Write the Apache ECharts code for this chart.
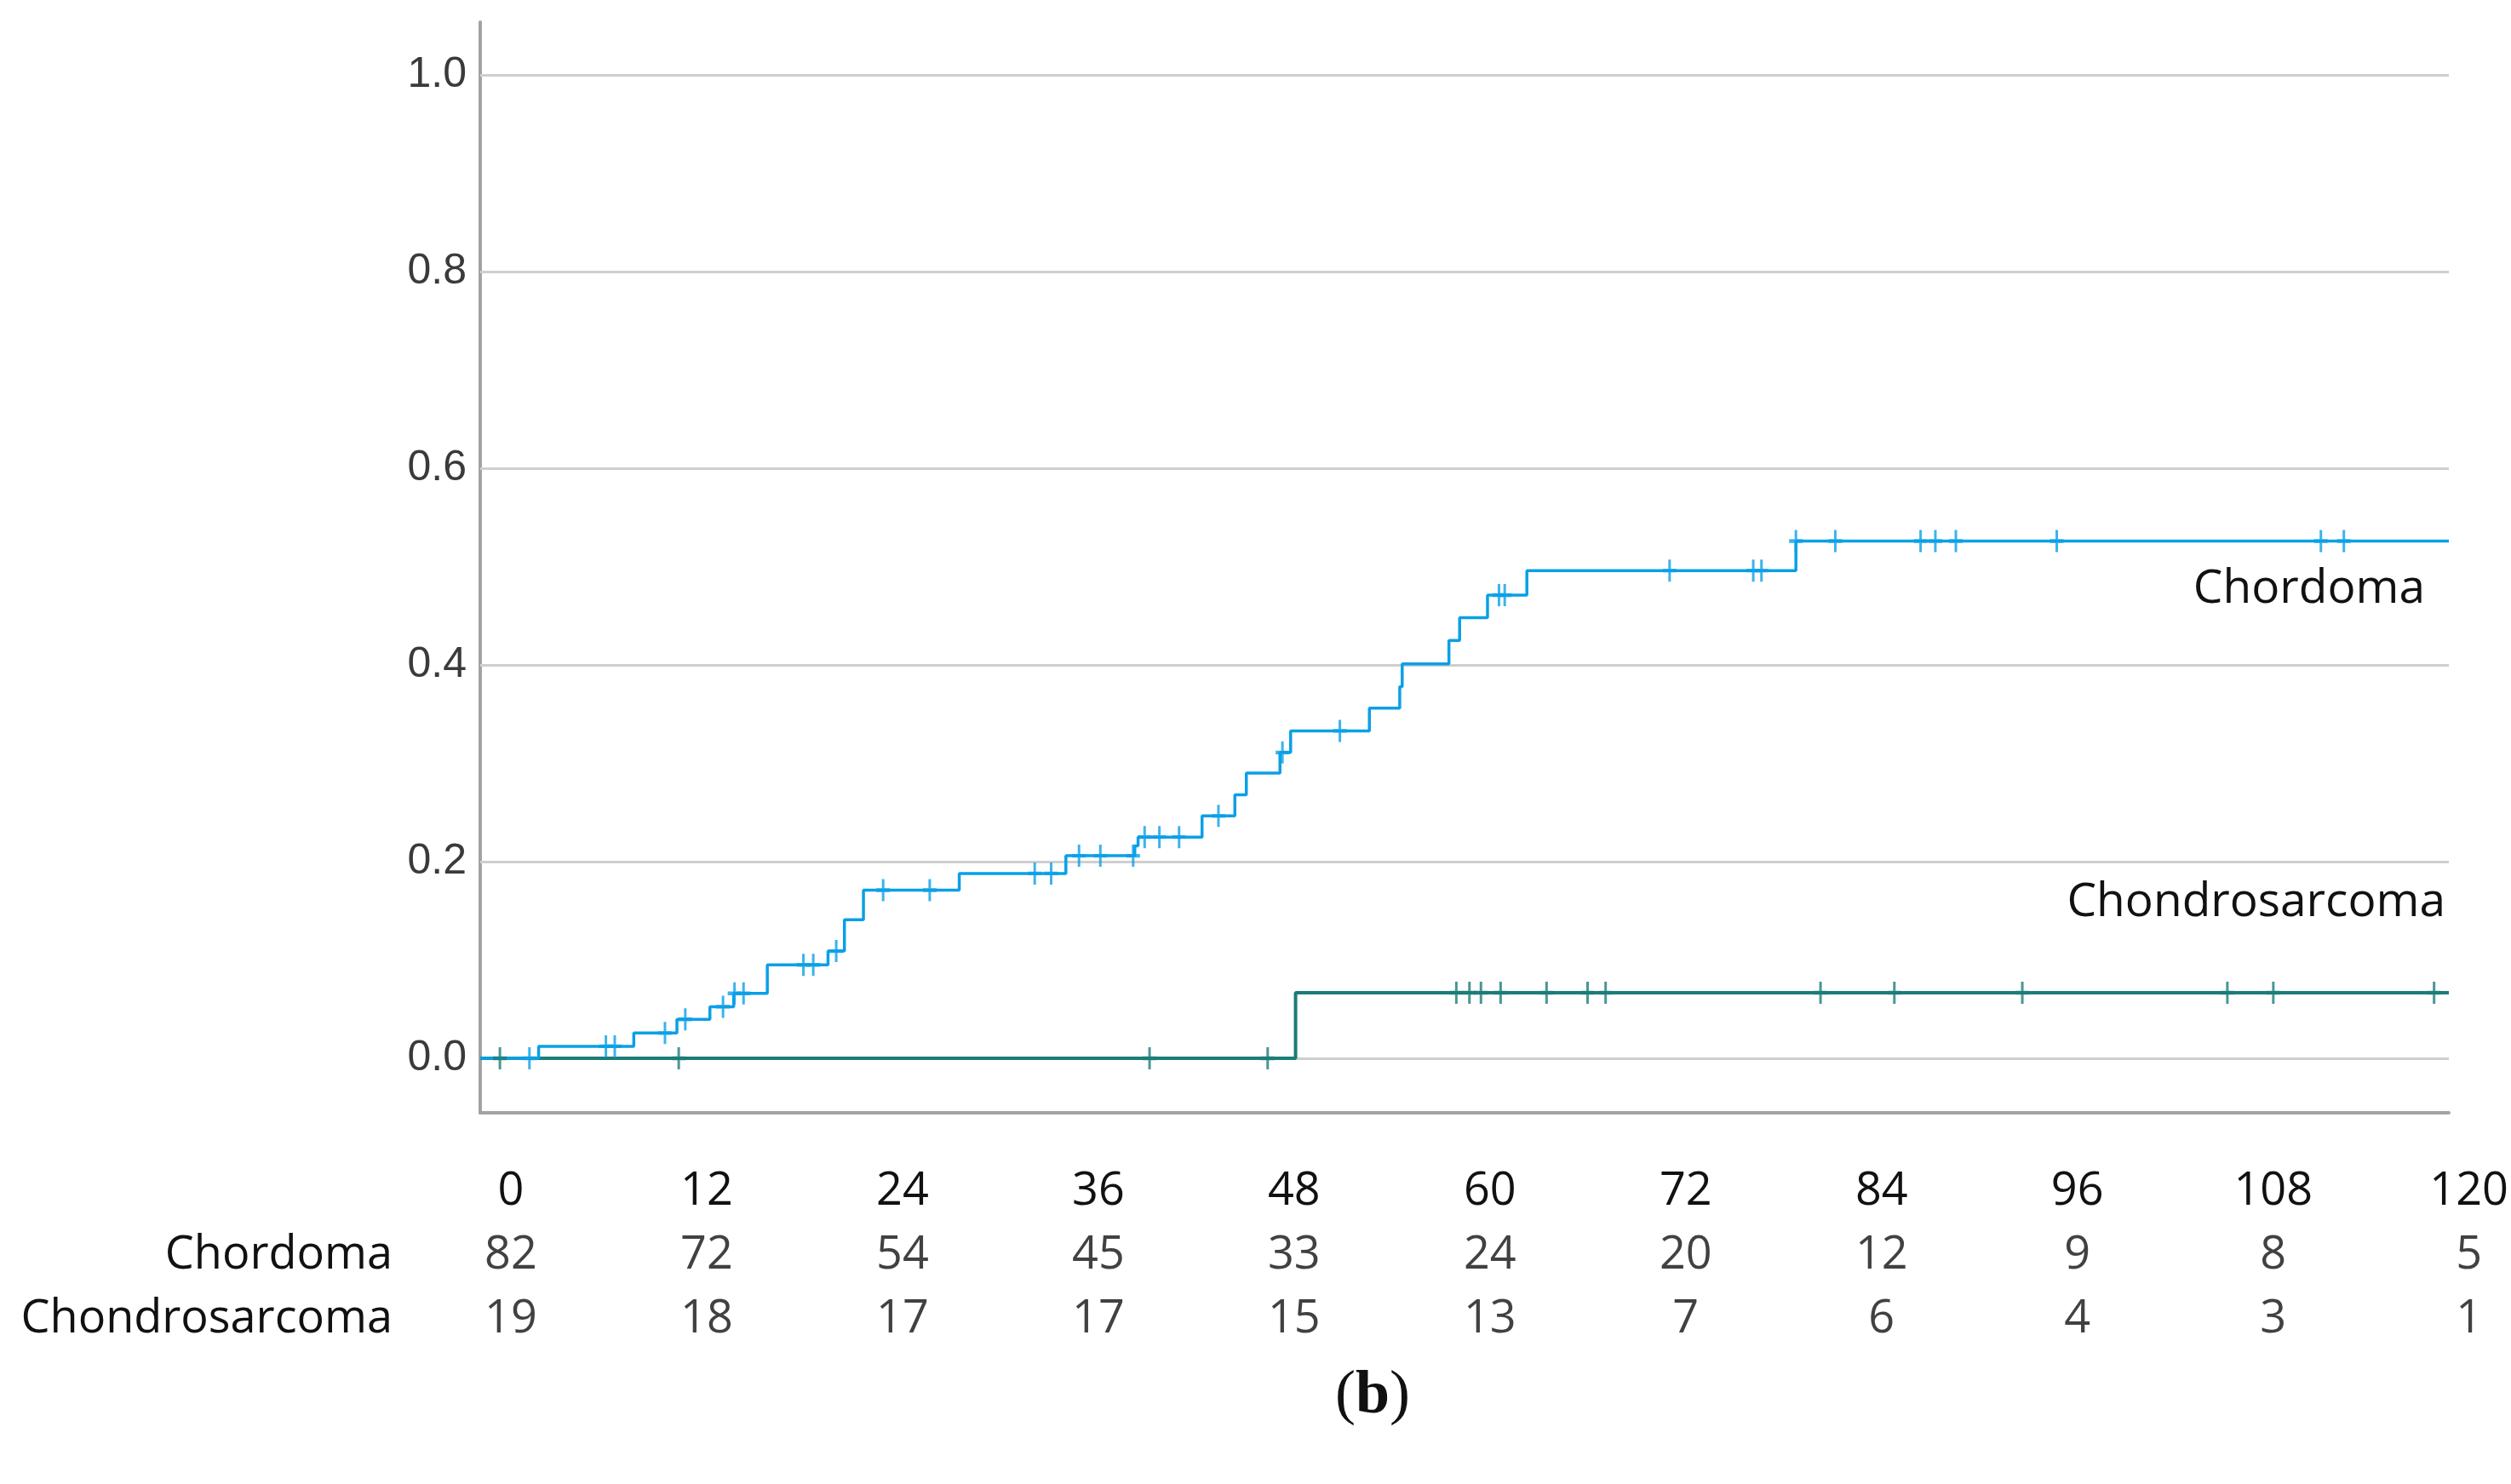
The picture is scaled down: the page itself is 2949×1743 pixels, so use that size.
<!DOCTYPE html>
<html>
<head>
<meta charset="utf-8">
<script src="https://cdn.jsdelivr.net/npm/echarts@6/dist/echarts.min.js"></script>
<style>
html,body{margin:0;padding:0;background:#fff;}
#main{width:2949px;height:1743px;}
</style>
</head>
<body>
<div id="main"></div>
<script>
// ---- data ----
const tickMonths = [0, 12, 24, 36, 48, 60, 72, 84, 96, 108, 120];
const groups = ['Chordoma', 'Chondrosarcoma'];
const riskChordoma = [82, 72, 54, 45, 33, 24, 20, 12, 9, 8, 5];
const riskChondro = [19, 18, 17, 17, 15, 13, 7, 6, 4, 3, 1];
const yTicks = [0, 0.2, 0.4, 0.6, 0.8, 1.0];

const chordomaEventTimes  = [3.56, 9.36, 11.99, 14.0, 15.45, 17.5, 21.2, 22.2, 23.36, 29.2, 35.7, 39.9, 40.1, 44.0, 46.0, 46.7, 48.75, 49.4, 54.2, 56.05, 56.2, 59.05, 59.7, 61.4, 63.8, 80.2];
const chordomaEventValues = [0.0122, 0.0257, 0.0396, 0.0525, 0.066, 0.095, 0.109, 0.141, 0.171, 0.188, 0.206, 0.216, 0.225, 0.2465, 0.268, 0.29, 0.311, 0.333, 0.356, 0.378, 0.401, 0.425, 0.448, 0.471, 0.496, 0.526];
const chordomaCensorTimes = [3.0, 7.66, 8.2, 11.26, 12.5, 14.8, 15.5, 16.05, 19.7, 20.3, 21.7, 24.56, 27.4, 33.8, 34.8, 36.5, 37.8, 39.8, 40.5, 41.4, 42.6, 45.0, 48.9, 52.4, 62.1, 62.45, 72.5, 77.6, 78.1, 80.2, 82.6, 87.8, 88.7, 89.95, 96.1, 112.2, 113.6];

const chondroEventTimes  = [49.7];
const chondroEventValues = [0.0667];
const chondroCensorTimes = [1.2, 12.1, 40.8, 48.0, 59.5, 60.3, 61.0, 62.2, 65.0, 67.5, 68.6, 81.7, 86.2, 94.0, 106.5, 109.3, 119.1];

const maxMonth = 120;

// ---- helpers ----
function stepData(times, values) {
  const d = [[0, 0]];
  times.forEach((t, i) => d.push([t, values[i]]));
  d.push([maxMonth, values[values.length - 1]]);
  return d;
}
function levelAt(times, values, t) {
  let v = 0;
  for (let i = 0; i < times.length; i++) { if (times[i] <= t) v = values[i]; }
  return v;
}
function censorData(cTimes, times, values) {
  return cTimes.map(t => [t, levelAt(times, values, t)]);
}

const blue = '#0aa0e6';
const teal = '#1b7d77';
const censorPath = 'path://M6.5,0h3v24h-3z M0,10h16v4h-16z';
const tableFont = '"Open Sans", sans-serif';

const tableData = [];
tickMonths.forEach((m, i) => {
  tableData.push([m, groups[0], riskChordoma[i]]);
  tableData.push([m, groups[1], riskChondro[i]]);
});

const chart = echarts.init(document.getElementById('main'), null, {renderer: 'canvas'});
chart.setOption({
  animation: false,
  backgroundColor: '#ffffff',
  grid: [
    {left: 564, right: 73, top: 26, bottom: 436},
    {left: 600, width: 2300, top: 1437, height: 150}
  ],
  xAxis: [
    {
      type: 'value', gridIndex: 0, min: 0, max: maxMonth,
      axisLine: {show: true, onZero: false, lineStyle: {color: '#a3a3a3', width: 4}},
      axisTick: {show: false}, axisLabel: {show: false}, splitLine: {show: false}
    },
    {
      type: 'value', gridIndex: 1, position: 'top', min: 0, max: maxMonth, interval: 12,
      axisLine: {show: false}, axisTick: {show: false}, splitLine: {show: false},
      axisLabel: {
        show: true, margin: 10, fontSize: 54, fontFamily: tableFont, color: '#111',
        lineHeight: 55, showMinLabel: true, showMaxLabel: true
      }
    }
  ],
  yAxis: [
    {
      type: 'value', gridIndex: 0, min: -0.0554, max: 1.0537,
      axisLine: {show: true, onZero: false, lineStyle: {color: '#a3a3a3', width: 4}},
      axisTick: {show: false}, splitLine: {show: false},
      axisLabel: {
        show: true, customValues: yTicks, margin: 16,
        fontSize: 50, fontFamily: '"Liberation Sans", Arial, sans-serif', color: '#3a3a3a',
        formatter: v => v.toFixed(1)
      }
    },
    {
      type: 'category', gridIndex: 1, data: groups, inverse: true,
      axisLine: {show: false}, axisTick: {show: false}, splitLine: {show: false},
      axisLabel: {show: true, margin: 139, fontSize: 54, fontFamily: tableFont, color: '#111'}
    }
  ],
  series: [
    {
      type: 'line', xAxisIndex: 0, yAxisIndex: 0, data: [], z: 1, silent: true,
      markLine: {
        z: 1, silent: true, symbol: ['none', 'none'], label: {show: false},
        lineStyle: {color: '#cfcfcf', width: 3, type: 'solid'},
        data: yTicks.map(v => ({yAxis: v}))
      }
    },
    {
      name: 'Chondrosarcoma', type: 'line', step: 'end', xAxisIndex: 0, yAxisIndex: 0,
      data: stepData(chondroEventTimes, chondroEventValues),
      symbol: 'none', lineStyle: {color: teal, width: 4}, z: 3
    },
    {
      name: 'Chordoma', type: 'line', step: 'end', xAxisIndex: 0, yAxisIndex: 0,
      data: stepData(chordomaEventTimes, chordomaEventValues),
      symbol: 'none', lineStyle: {color: blue, width: 3.5}, z: 4
    },
    {
      type: 'scatter', xAxisIndex: 0, yAxisIndex: 0,
      data: censorData(chondroCensorTimes, chondroEventTimes, chondroEventValues),
      symbol: censorPath, symbolSize: [16, 26], itemStyle: {color: teal}, z: 5
    },
    {
      type: 'scatter', xAxisIndex: 0, yAxisIndex: 0,
      data: censorData(chordomaCensorTimes, chordomaEventTimes, chordomaEventValues),
      symbol: censorPath, symbolSize: [16, 26], itemStyle: {color: blue}, z: 6
    },
    {
      type: 'scatter', xAxisIndex: 1, yAxisIndex: 1,
      data: tableData, symbolSize: 1, itemStyle: {color: 'transparent'},
      label: {
        show: true, position: 'inside', fontSize: 54, fontFamily: tableFont, color: '#111',
        formatter: p => String(p.value[2])
      }
    }
  ],
  graphic: [
    {type: 'text', x: 2848, y: 692, style: {text: 'Chordoma', fontSize: 55, fontFamily: tableFont, fill: '#111', textAlign: 'right', textVerticalAlign: 'middle'}},
    {type: 'text', x: 2872, y: 1060, style: {text: 'Chondrosarcoma', fontSize: 55, fontFamily: tableFont, fill: '#111', textAlign: 'right', textVerticalAlign: 'middle'}},
    {type: 'text', x: 1612, y: 1640, style: {
      text: '{p|(}{b|b}{p|)}', textAlign: 'center', textVerticalAlign: 'middle',
      rich: {
        p: {fontSize: 72, fontFamily: '"Liberation Serif", serif', fill: '#111'},
        b: {fontSize: 72, fontFamily: '"Liberation Serif", serif', fontWeight: 'bold', fill: '#111'}
      }
    }}
  ]
});
</script>
</body>
</html>
